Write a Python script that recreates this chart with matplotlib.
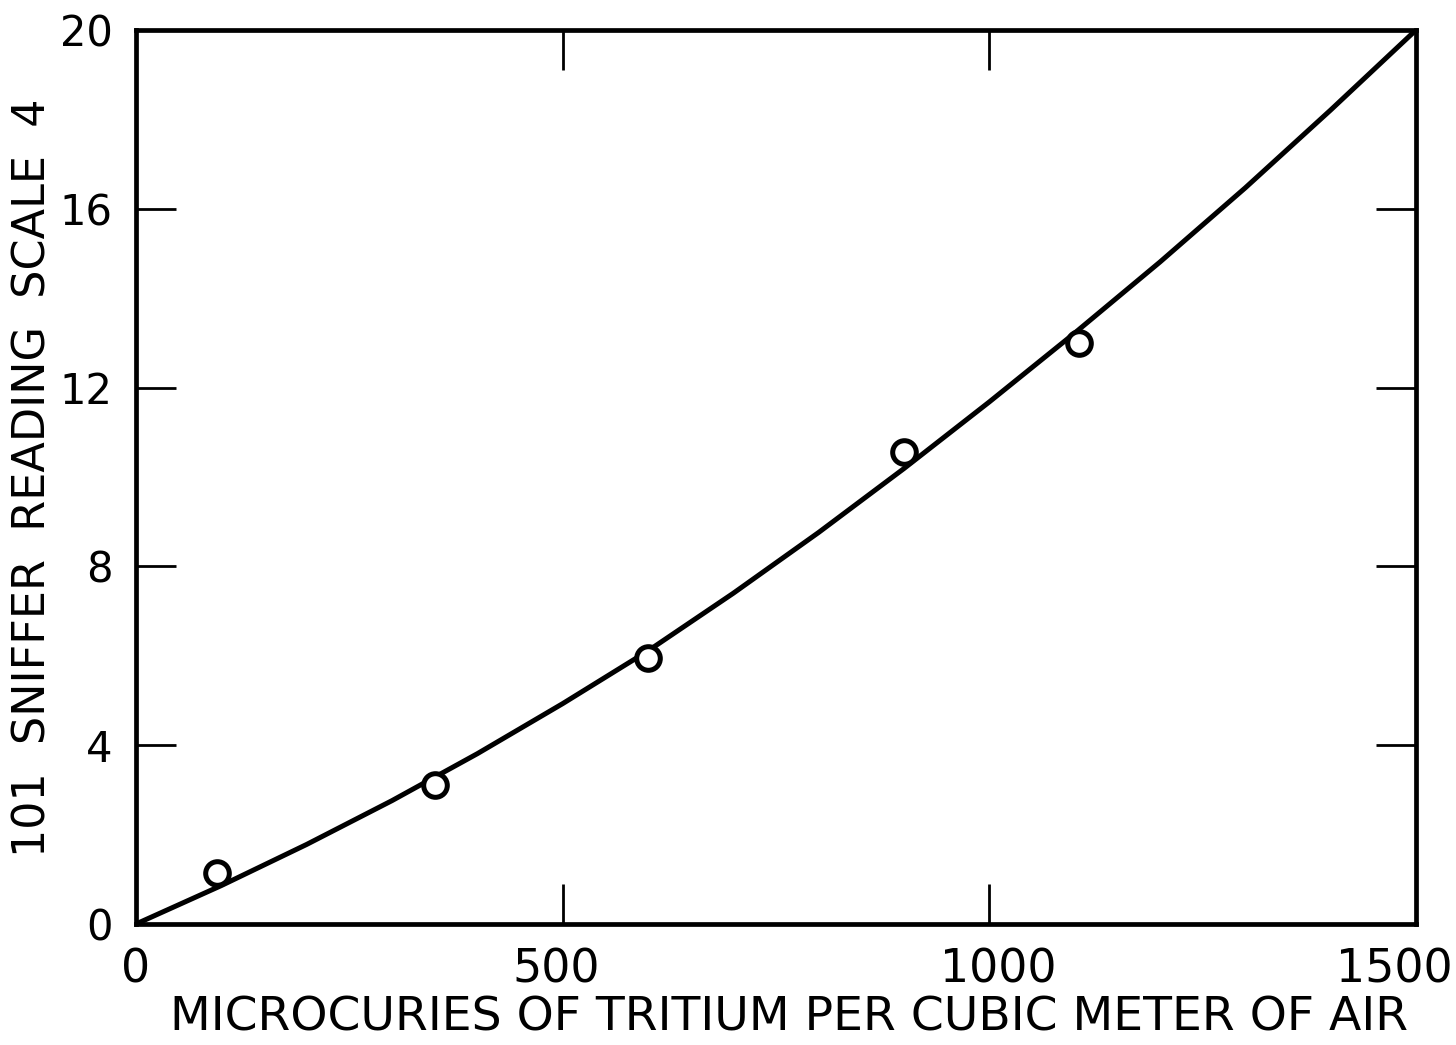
import matplotlib
matplotlib.use("Agg")
import matplotlib.pyplot as plt
import matplotlib.transforms as mtransforms

# measured data points
point_x = [95, 350, 600, 900, 1105]
point_y = [1.15, 3.1, 5.95, 10.55, 13.0]

# fitted curve
curve_x = [0, 100, 200, 300, 400, 500, 600, 700, 800, 900, 1000, 1100, 1200, 1300, 1400, 1500]
curve_y = [0, 0.86, 1.78, 2.76, 3.81, 4.93, 6.11, 7.40, 8.76, 10.19, 11.68, 13.22, 14.81, 16.47, 18.21, 20.0]

x_ticks = [0, 500, 1000, 1500]
y_ticks = [0, 4, 8, 12, 16, 20]
x_label = "MICROCURIES OF TRITIUM PER CUBIC METER OF AIR"
y_label = "101  SNIFFER  READING  SCALE  4"

plt.rcParams['font.family'] = ['DejaVu Sans']

W, H = 1456, 1045
fig = plt.figure(figsize=(W/100, H/100), dpi=100)
left, right, top, bottom = 136, 1416, 30, 924
ax = fig.add_axes([left/W, 1-bottom/H, (right-left)/W, (bottom-top)/H])

ax.plot(curve_x, curve_y, color='black', lw=3.6, solid_capstyle='round',
        solid_joinstyle='round', zorder=2)
ax.plot(point_x, point_y, linestyle='none', marker='o', markersize=17,
        markerfacecolor='white', markeredgecolor='black', markeredgewidth=3.6, zorder=3)

ax.set_xlim(0, 1500)
ax.set_ylim(0, 20)
ax.set_xticks(x_ticks)
ax.set_yticks(y_ticks)
ax.set_xticklabels([str(v) for v in x_ticks])
ax.set_yticklabels([str(v) for v in y_ticks])

for s in ax.spines.values():
    s.set_linewidth(3.4)
    s.set_color('black')

ax.tick_params(axis='both', which='major', direction='in', length=29, width=2.0,
               top=True, right=True, colors='black')
ax.tick_params(axis='x', pad=17, labelsize=33)
ax.tick_params(axis='y', pad=17, labelsize=30)

# small horizontal shifts of the x tick labels, as lettered in the original
shifts_px = {500: -6, 1000: 9, 1500: -22}
for val, lab in zip(x_ticks, ax.get_xticklabels()):
    dx = shifts_px.get(val, 0)
    if dx:
        lab.set_transform(lab.get_transform() +
                          mtransforms.ScaledTranslation(dx/100, 0, fig.dpi_scale_trans))

fig.text(789/W, 1-1018/H, x_label, fontsize=34, ha='center', va='center')
fig.text(33/W, 1-478/H, y_label, fontsize=32, ha='center', va='center', rotation=90)

fig.savefig("out.png", dpi=100, facecolor='white')
